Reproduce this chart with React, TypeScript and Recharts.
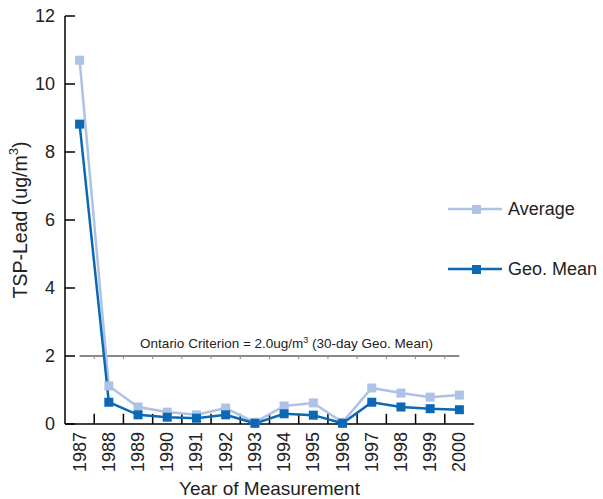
import React from "react";
import { LineChart, Line, XAxis, YAxis, ReferenceLine, Legend } from "recharts";

const years = ["1987", "1988", "1989", "1990", "1991", "1992", "1993", "1994", "1995", "1996", "1997", "1998", "1999", "2000"];
const average = [10.7, 1.12, 0.5, 0.35, 0.27, 0.47, 0.05, 0.53, 0.62, 0.05, 1.06, 0.91, 0.79, 0.85];
const geoMean = [8.82, 0.64, 0.27, 0.2, 0.17, 0.27, 0.02, 0.3, 0.26, 0.02, 0.64, 0.5, 0.45, 0.42];
const yTicks = [0, 2, 4, 6, 8, 10, 12];
const criterion = 2;

const AVG_COLOR = "#adc2e6";
const GEO_COLOR = "#0b68b5";
const FONT = "'Liberation Sans', Arial, sans-serif";
const TEXT = "#222";

const data = years.map((year, i) => ({ idx: i, year, average: average[i], geoMean: geoMean[i] }));
const yearTicks = years.map((_, i) => i);
const boundaryTicks = years.slice(1).map((_, i) => i + 0.5);

const squareDot = (color: string) => (p: any) => (
  <rect key={p.index} x={p.cx - 4.5} y={p.cy - 4.5} width={9} height={9} fill={color} />
);

const YearTick = (props: any) => {
  const { x, y, payload } = props;
  return (
    <text
      transform={`translate(${x},${y}) rotate(-90)`}
      textAnchor="end"
      dominantBaseline="central"
      fontSize={18}
      fontFamily={FONT}
      fill={TEXT}
    >
      {years[payload.value]}
    </text>
  );
};

// label left of the axis, tick mark drawn inward
const ValueTick = (props: any) => {
  const { x, y, payload } = props;
  return (
    <g>
      <line x1={x + 10} y1={y} x2={x + 20} y2={y} stroke="#000" strokeWidth={1.5} />
      <text x={x} y={y} dy="0.35em" textAnchor="end" fontSize={18} fontFamily={FONT} fill={TEXT}>
        {payload.value}
      </text>
    </g>
  );
};

const CriterionLabel = (props: any) => {
  const { viewBox } = props;
  const cx = viewBox.x + viewBox.width / 2 + 17;
  return (
    <text x={cx} y={viewBox.y - 8} textAnchor="middle" fontSize={13.5} fontFamily={FONT} fill={TEXT}>
      Ontario Criterion = 2.0ug/m
      <tspan dy={-5} fontSize={9}>3</tspan>
      <tspan dy={5}> (30-day Geo. Mean)</tspan>
    </text>
  );
};

const YLabel = (props: any) => {
  const { viewBox } = props;
  const cy = viewBox.y + viewBox.height / 2;
  return (
    <text
      transform={`translate(20,${cy}) rotate(-90)`}
      textAnchor="middle"
      dominantBaseline="central"
      fontSize={19.5}
      fontFamily={FONT}
      fill={TEXT}
    >
      TSP-Lead (ug/m
      <tspan dy={-7} fontSize={13}>3</tspan>
      <tspan dy={7}>)</tspan>
    </text>
  );
};

const XLabel = (props: any) => {
  const { viewBox } = props;
  return (
    <text
      x={viewBox.x + viewBox.width / 2}
      y={viewBox.y + viewBox.height - 4}
      textAnchor="middle"
      fontSize={19}
      fontFamily={FONT}
      fill={TEXT}
    >
      Year of Measurement
    </text>
  );
};

const LegendContent = (props: any) => {
  const items = props.payload || [];
  return (
    <div style={{ fontFamily: FONT, fontSize: 18, color: TEXT }}>
      {items.map((item: any, i: number) => (
        <div key={i} style={{ display: "flex", alignItems: "center", height: 20, marginBottom: 40 }}>
          <svg width={54} height={12} style={{ marginRight: 6 }}>
            <line x1={0} y1={6} x2={54} y2={6} stroke={item.color} strokeWidth={2.5} />
            <rect x={24} y={2} width={9} height={9} fill={item.color} />
          </svg>
          <span>{item.value}</span>
        </div>
      ))}
    </div>
  );
};

export default function App() {
  return (
    <div style={{ position: "absolute", left: 0, top: 0, background: "#fff" }}>
      <LineChart width={603} height={499} data={data} margin={{ top: 16, right: 129, left: 0, bottom: 0 }}>
        <XAxis
          type="number"
          dataKey="idx"
          domain={[-0.5, 13.5]}
          ticks={yearTicks}
          interval={0}
          height={75}
          tickLine={false}
          axisLine={{ stroke: "#000", strokeWidth: 1.5 }}
          tick={<YearTick />}
          label={{ content: <XLabel /> } as any}
          allowDataOverflow
        />
        <YAxis
          domain={[0, 12]}
          ticks={yTicks}
          width={65}
          interval={0}
          tickLine={false}
          tickSize={0}
          tickMargin={10}
          axisLine={{ stroke: "#000", strokeWidth: 1.5 }}
          tick={<ValueTick />}
          label={{ content: <YLabel /> } as any}
        />
        {/* inward x-axis ticks at the category boundaries */}
        {boundaryTicks.map((b) => (
          <ReferenceLine
            key={"x" + b}
            segment={[
              { x: b, y: 0 },
              { x: b, y: 0.3 },
            ]}
            stroke="#000"
            strokeWidth={1.5}
          />
        ))}
        <ReferenceLine
          segment={[
            { x: 0, y: criterion },
            { x: years.length - 1, y: criterion },
          ]}
          stroke="#8a8a8a"
          strokeWidth={2}
          label={<CriterionLabel />}
        />
        {boundaryTicks.map((b) => (
          <ReferenceLine
            key={"c" + b}
            segment={[
              { x: b, y: criterion },
              { x: b, y: criterion - 0.09 },
            ]}
            stroke="#8a8a8a"
            strokeWidth={1}
          />
        ))}
        <Legend
          layout="vertical"
          align="center"
          verticalAlign="middle"
          content={<LegendContent />}
          wrapperStyle={{ left: 448, top: 199, width: 155 }}
        />
        <Line
          dataKey="average"
          name="Average"
          stroke={AVG_COLOR}
          strokeWidth={2.5}
          dot={squareDot(AVG_COLOR)}
          activeDot={false}
          isAnimationActive={false}
        />
        <Line
          dataKey="geoMean"
          name="Geo. Mean"
          stroke={GEO_COLOR}
          strokeWidth={2.5}
          dot={squareDot(GEO_COLOR)}
          activeDot={false}
          isAnimationActive={false}
        />
      </LineChart>
    </div>
  );
}
